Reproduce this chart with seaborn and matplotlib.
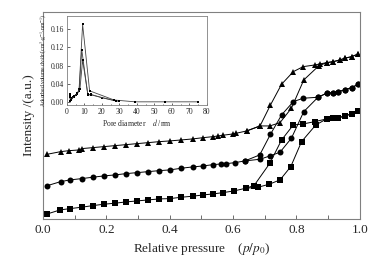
import matplotlib
matplotlib.use("Agg")
import matplotlib.pyplot as plt
import numpy as np
import pandas as pd
import seaborn as sns
from matplotlib.ticker import MultipleLocator

# main isotherms: relative pressure p/p0 and offset intensity (a.u.)
sq_ads_p = [0.014, 0.054, 0.085, 0.122, 0.157, 0.192, 0.227, 0.262, 0.297, 0.332, 0.367, 0.40, 0.437,
            0.472, 0.506, 0.537, 0.568, 0.603, 0.64, 0.679, 0.714, 0.748, 0.782, 0.816, 0.861, 0.895,
            0.916, 0.932, 0.952, 0.974, 0.995]
sq_ads_v = [5, 9, 10.3, 11.7, 13.3, 14.7, 15.7, 17, 18, 19, 20, 20.3, 21.7, 22.7, 24, 25, 26.3, 28,
            30.7, 31.7, 34.7, 39, 52.3, 77.3, 94, 100, 100.7, 101, 103, 105, 108]
sq_des_p = [0.995, 0.974, 0.952, 0.932, 0.916, 0.895, 0.858, 0.821, 0.79, 0.753, 0.716, 0.666, 0.64]
sq_des_v = [108, 105, 103, 101, 100.7, 100, 97.3, 95, 94, 79, 55.7, 33.3, 30.7]

ci_ads_p = [0.014, 0.056, 0.085, 0.122, 0.157, 0.192, 0.227, 0.262, 0.297, 0.332, 0.367, 0.40, 0.437,
            0.472, 0.506, 0.537, 0.563, 0.579, 0.606, 0.637, 0.685, 0.716, 0.748, 0.784, 0.823, 0.868,
            0.895, 0.916, 0.932, 0.952, 0.974, 0.995]
ci_ads_v = [33.3, 37.3, 39, 40.3, 41.7, 43, 44, 45.3, 46.3, 47.3, 48.3, 49, 50.7, 52, 53, 54.3, 55,
            55.3, 56.3, 58, 59.7, 63, 66.7, 80.7, 107.3, 121.7, 125.7, 126.3, 127.3, 129, 131.3, 134.7]
ci_des_p = [0.995, 0.974, 0.952, 0.932, 0.916, 0.895, 0.868, 0.821, 0.79, 0.753, 0.718, 0.684, 0.637]
ci_des_v = [134.7, 131.3, 129, 127.3, 126.3, 125.7, 121.7, 120.7, 117.3, 104, 84.7, 64, 58]

tr_ads_p = [0.014, 0.056, 0.083, 0.115, 0.122, 0.157, 0.192, 0.227, 0.262, 0.297, 0.332, 0.367, 0.40,
            0.437, 0.472, 0.506, 0.537, 0.553, 0.568, 0.60, 0.61, 0.643, 0.685, 0.716, 0.748, 0.784,
            0.823, 0.87, 0.895, 0.916, 0.937, 0.952, 0.974, 0.995]
tr_ads_v = [64.7, 67.3, 68.3, 69, 70.3, 71.3, 72.3, 73.3, 74.3, 75.3, 76.3, 77.3, 78, 79, 80, 81.3,
            82.3, 83, 83.7, 85, 85.7, 88, 93, 93, 96.3, 110.7, 139, 153, 156.3, 157.3, 159, 160.7,
            162.3, 165]
tr_des_p = [0.995, 0.974, 0.952, 0.937, 0.916, 0.895, 0.874, 0.858, 0.821, 0.79, 0.753, 0.718, 0.685,
            0.643]
tr_des_v = [165, 162.3, 160.7, 159, 157.3, 156.3, 155, 154, 152.3, 147.3, 134.7, 114, 93, 88]

# inset: pore size distribution, d (nm) vs dv/dr
psd_a_d = [1.5, 2.5, 3.5, 5, 6, 7, 9, 13, 27, 39, 56, 75]
psd_a_v = [0.018, 0.008, 0.012, 0.015, 0.018, 0.03, 0.17, 0.025, 0.005, 0.001, 0.001, 0.001]
psd_b_d = [1.5, 2, 3, 4, 5, 7, 8.5, 12, 14, 20, 28, 30]
psd_b_v = [0.015, 0.003, 0.01, 0.012, 0.015, 0.025, 0.115, 0.016, 0.017, 0.01, 0.003, 0.002]
psd_c_d = [1.5, 2.5, 4, 6, 7.5, 9, 12, 14, 27]
psd_c_v = [0.012, 0.005, 0.013, 0.02, 0.03, 0.092, 0.017, 0.016, 0.004]

sns.set_theme(style="ticks")
plt.rcParams["font.family"] = ["Liberation Serif", "DejaVu Serif"]
plt.rcParams["mathtext.fontset"] = "stix"
plt.rcParams["axes.edgecolor"] = "#808080"

fig = plt.figure(figsize=(3.8, 2.6), dpi=100)
ax = fig.add_axes([0.113, 0.158, 0.834, 0.796])

branches = [
    (sq_ads_p, sq_ads_v, "s"), (sq_des_p, sq_des_v, "s"),
    (ci_ads_p, ci_ads_v, "o"), (ci_des_p, ci_des_v, "o"),
    (tr_ads_p, tr_ads_v, "^"), (tr_des_p, tr_des_v, "^"),
]
for p, v, m in branches:
    df = pd.DataFrame({"p": p, "v": v})
    sns.lineplot(data=df, x="p", y="v", sort=False, estimator=None, ax=ax, color="black",
                 linewidth=0.7, marker=m, markersize=4.3, markeredgewidth=0)

ax.set_xlim(0, 1.0)
ax.set_ylim(0, 207)
ax.xaxis.set_major_locator(MultipleLocator(0.2))
ax.xaxis.set_minor_locator(MultipleLocator(0.1))
ax.set_xticklabels([f"{t:.1f}" for t in ax.get_xticks()])
ax.tick_params(axis="x", which="both", direction="in", length=3, width=0.6, color="#555555",
               labelsize=9.5, pad=4)
ax.set_yticks([])
for s in ax.spines.values():
    s.set_linewidth(0.8)
ax.set_xlabel(r"Relative pressure    ($p/p_0$)", fontsize=9.5, labelpad=3)
ax.set_ylabel("Intensity /(a.u.)", fontsize=9.5, labelpad=6)

# inset
ins = fig.add_axes([0.176, 0.596, 0.368, 0.342])
for d, v in [(psd_a_d, psd_a_v), (psd_b_d, psd_b_v), (psd_c_d, psd_c_v)]:
    df = pd.DataFrame({"d": d, "v": v})
    sns.lineplot(data=df, x="d", y="v", sort=False, estimator=None, ax=ins, color="#444444",
                 linewidth=0.6, marker="s", markersize=1.6, markeredgewidth=0,
                 markerfacecolor="black")
ins.set_xlim(0, 80)
ins.set_ylim(-0.006, 0.188)
ins.xaxis.set_major_locator(MultipleLocator(10))
ins.xaxis.set_minor_locator(MultipleLocator(5))
ins.set_yticks([0.0, 0.04, 0.08, 0.12, 0.16])
ins.set_yticklabels(["0.00", "0.04", "0.08", "0.12", "0.16"])
ins.tick_params(which="both", direction="in", length=1.8, width=0.5, labelsize=5.5, pad=2)
ins.tick_params(which="minor", length=1.0)
for s in ins.spines.values():
    s.set_linewidth(0.6)
ins.set_xlabel(r"Pore diameter    $d$ /nm", fontsize=5.5, labelpad=1)
ins.set_ylabel(r"Adsorbed volume dv/dr/(cm$^3$$\cdot$g$^{-1}$$\cdot$nm$^{-1}$)", fontsize=4.1,
               labelpad=1)

fig.savefig("out.png", dpi=100)
